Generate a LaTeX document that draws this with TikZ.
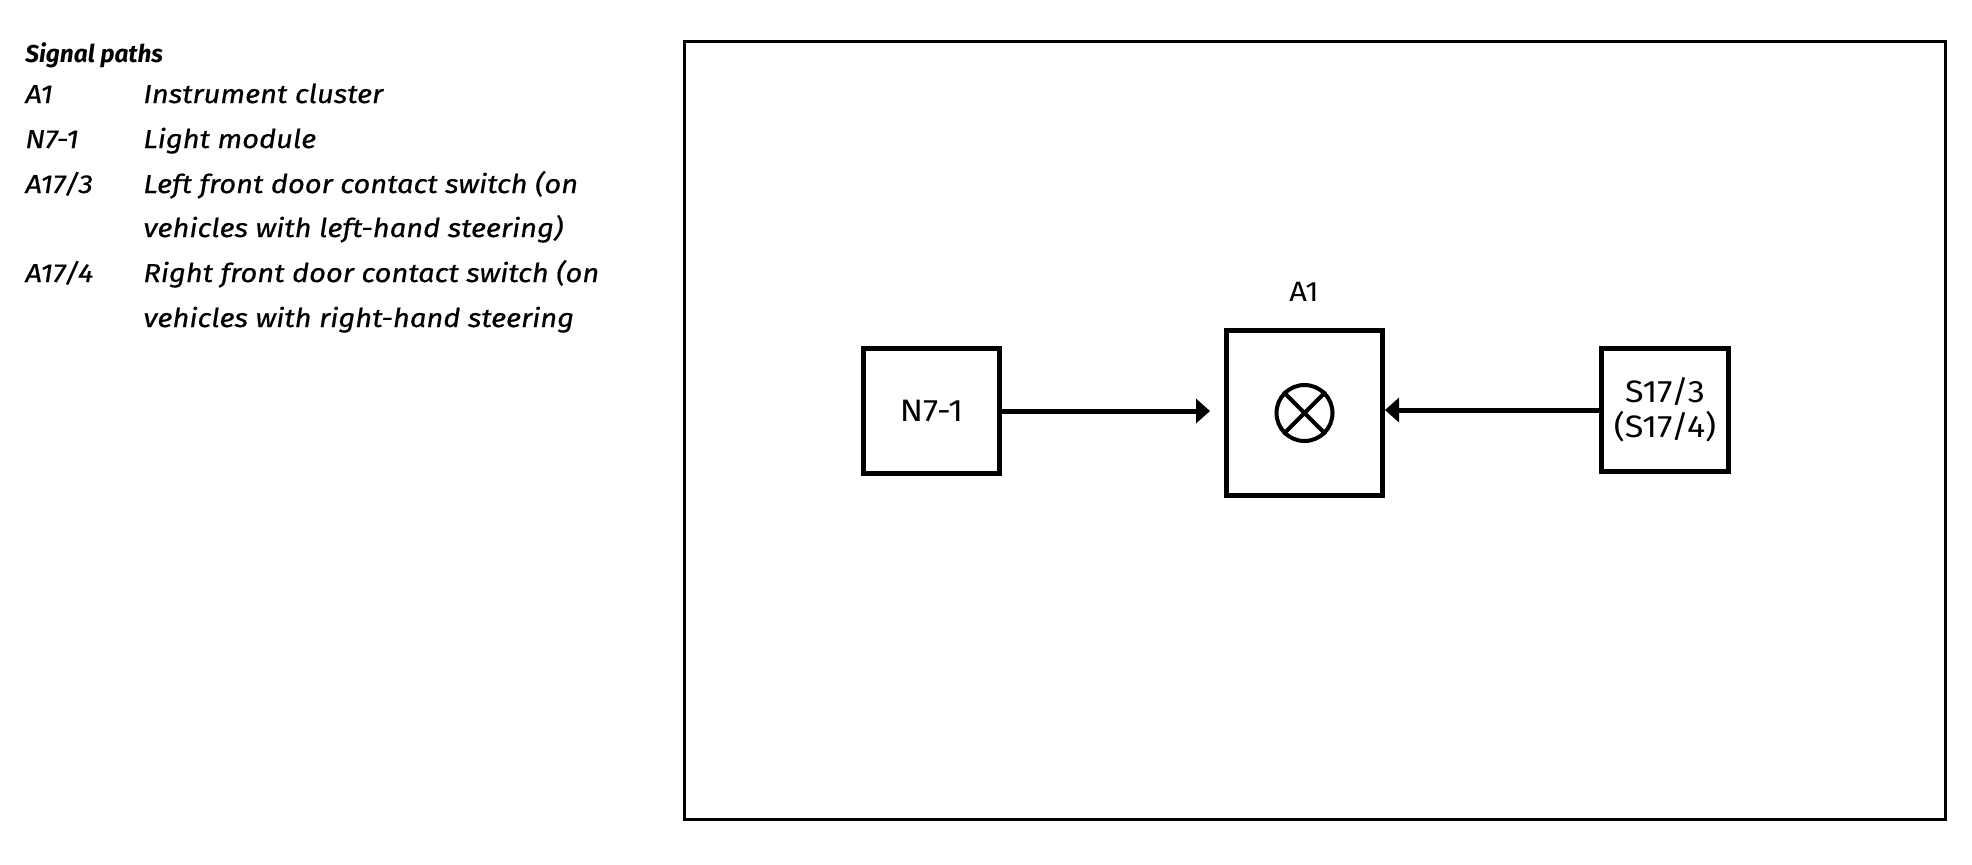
\documentclass[tikz,border=0pt]{standalone}
\usepackage{fontspec}
\setmainfont{Fira Sans}
\newfontfamily\boxfont[FakeStretch=1.1]{Fira Sans}
\newfontfamily\legendfont[FakeStretch=1.12,FakeBold=0.6]{Fira Sans}
\usetikzlibrary{arrows.meta}

\begin{document}
\begin{tikzpicture}[x=0.5pt,y=-0.5pt,
    block/.style={draw,line width=2.5pt,inner sep=0pt,align=center,font=\boxfont\fontsize{15.5}{17.5}\selectfont},
    sig/.style={line width=2.5pt,-{Triangle[length=7pt,width=12pt]}},
    legend/.style={anchor=base west,inner sep=0pt,font=\legendfont\fontsize{13}{15}\selectfont\itshape}]
    \useasboundingbox (0,0) rectangle (1972,864);
    \draw[line width=1.5pt] (684.5,41.5) rectangle (1945,819);
    % legend
    \node[legend,font=\fontsize{12.2}{15}\selectfont\bfseries\itshape] (title) at (25,62) {Signal paths};
    \foreach \y/\key/\txt [count=\i] in {103/A1/Instrument cluster,148/N7-1/Light module,193/{A17/3}/Left front door contact switch (on,282/{A17/4}/Right front door contact switch (on}
    {
      \node[legend] (key\i) at (25,\y) {\key};
      \node[legend] (txt\i) at (143,\y) {\txt};
    }
    \node[legend] (more3) at (143,237) {vehicles with left-hand steering)};
    \node[legend] (more4) at (143,327) {vehicles with right-hand steering};
    % blocks
    \node[block,minimum width=68pt,minimum height=62.5pt] (n7) at (931.5,411) {N7-1};
    \node[block,minimum width=78pt,minimum height=82.5pt] (a1) at (1304.5,413) {};
    \node[block,minimum width=63.5pt,minimum height=61.5pt] (s17) at (1665,410) {S17/3\\(S17/4)};
    \node[circle,draw,line width=2pt,minimum size=28pt,inner sep=0pt] (lamp) at (a1.center) {};
    \draw[line width=2pt] (lamp.45) -- (lamp.225) (lamp.135) -- (lamp.315);
    \node[font=\boxfont\fontsize{14}{16}\selectfont] (a1name) at (1304,292) {A1};
    % signals
    \draw[sig,shorten >=7pt] (n7.east) -- (n7.east -| a1.west);
    \draw[sig] (s17.west) -- (s17.west -| a1.east);
  \end{tikzpicture}
\end{document}
